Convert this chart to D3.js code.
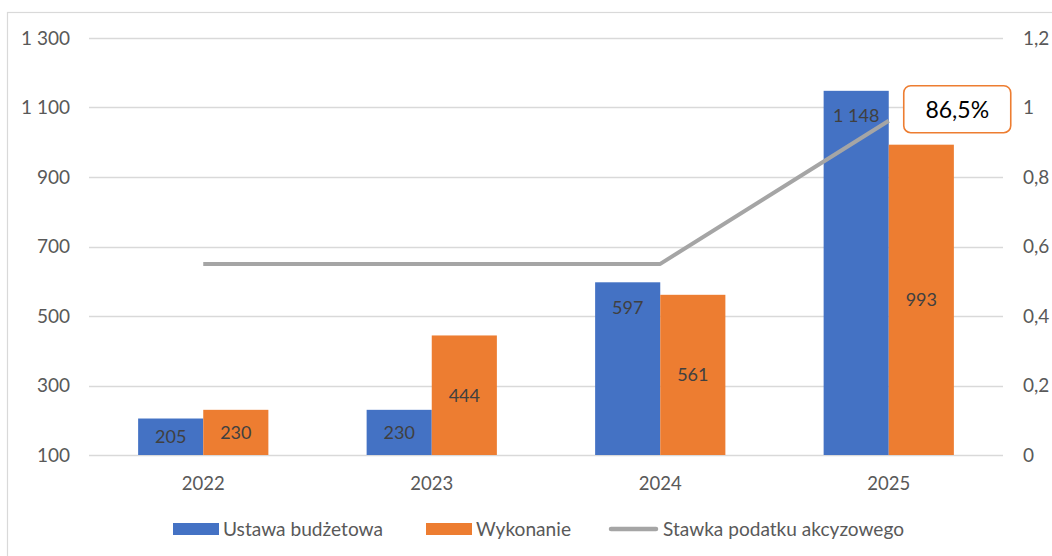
<!DOCTYPE html>
<html><head><meta charset="utf-8">
<script src="https://cdn.jsdelivr.net/npm/d3@7"></script>
<style>body{margin:0;background:#fff}svg{display:block}text{font-family:Lato,"Open Sans",sans-serif}</style>
</head><body><svg id="c" width="1052" height="556"></svg>
<script>
const categories = ["2022","2023","2024","2025"];
const ustawa = [205, 230, 597, 1148];
const wykonanie = [230, 444, 561, 993];
const stawka = [0.55, 0.55, 0.55, 0.962];
const leftTicks = [100, 300, 500, 700, 900, 1100, 1300];
const rightTicks = [0, 0.2, 0.4, 0.6, 0.8, 1, 1.2];
const seriesNames = ["Ustawa budżetowa", "Wykonanie", "Stawka podatku akcyzowego"];
const annotation = "86,5%";

const colors = {blue:"#4472C4", orange:"#ED7D31", gray:"#A5A5A5", grid:"#D9D9D9", axis:"#595959", label:"#404040"};
const svg = d3.select("#c");
const L = 89, R = 1003, T = 38, B = 455;

svg.append("rect").attr("x",7.5).attr("y",12.5).attr("width",1060).attr("height",560)
  .attr("fill","none").attr("stroke","#D9D9D9").attr("stroke-width",1.2);

const x = d3.scaleBand().domain(categories).range([L,R]).padding(0);
const y = d3.scaleLinear().domain([100,1300]).range([B,T]);
const y2 = d3.scaleLinear().domain([0,1.2]).range([B,T]);
const fmt = v => d3.format(",")(v).replace(/,/g," ");
const fmt2 = v => String(v).replace(".",",");

// grid
svg.append("g").selectAll("line").data(leftTicks).join("line")
  .attr("x1",L).attr("x2",R).attr("y1",d=>Math.round(y(d))+0.5).attr("y2",d=>Math.round(y(d))+0.5)
  .attr("stroke",colors.grid).attr("stroke-width",1.3);

// left axis
const ax = svg.append("g").attr("transform",`translate(${L},0)`)
  .call(d3.axisLeft(y).tickValues(leftTicks).tickFormat(fmt).tickSize(0).tickPadding(19));
ax.select(".domain").remove();
ax.selectAll("text").attr("fill",colors.axis).style("font-size","19px");

// right axis
const ar = svg.append("g").attr("transform",`translate(${R},0)`)
  .call(d3.axisRight(y2).tickValues(rightTicks).tickFormat(fmt2).tickSize(0).tickPadding(20));
ar.select(".domain").remove();
ar.selectAll("text").attr("fill",colors.axis).style("font-size","19px");

// bottom axis
const ab = svg.append("g").attr("transform",`translate(0,${B})`)
  .call(d3.axisBottom(x).tickSize(0).tickPadding(22));
ab.select(".domain").remove();
ab.selectAll("text").attr("fill",colors.axis).style("font-size","18.5px");

const bw = x.bandwidth()*0.285;
const groups = [
  {vals: ustawa, color: colors.blue, off: -bw, end:true},
  {vals: wykonanie, color: colors.orange, off: 0, end:false}
];
groups.forEach(g=>{
  const data = categories.map((c,i)=>({c, v:g.vals[i]}));
  svg.append("g").selectAll("rect").data(data).join("rect")
    .attr("x",d=>x(d.c)+x.bandwidth()/2+g.off).attr("width",bw)
    .attr("y",d=>y(d.v)).attr("height",d=>y(100)-y(d.v)).attr("fill",g.color);
  svg.append("g").selectAll("text").data(data).join("text")
    .attr("x",d=>x(d.c)+x.bandwidth()/2+g.off+bw/2)
    .attr("y",d=>{const c=(y(d.v)+y(100))/2; return g.end? Math.min(y(d.v)+25,c): c;})
    .attr("dy","0.35em").attr("text-anchor","middle").attr("fill",colors.label)
    .style("font-size","18px").text(d=>fmt(d.v));
});

// line
const line = d3.line().x((d,i)=>x(categories[i])+x.bandwidth()/2).y(d=>y2(d));
svg.append("path").datum(stawka).attr("d",line).attr("fill","none")
  .attr("stroke",colors.gray).attr("stroke-width",4).attr("stroke-linejoin","round");

// annotation
const lastX = x(categories[3])+x.bandwidth()/2, lastY = y2(stawka[3]);
svg.append("rect").attr("x",lastX+15).attr("y",lastY-35).attr("width",107).attr("height",47)
  .attr("rx",7).attr("fill","#fff").attr("stroke",colors.orange).attr("stroke-width",1.6);
svg.append("text").attr("x",lastX+15+53.5).attr("y",lastY-11).attr("dy","0.35em")
  .attr("text-anchor","middle").attr("fill","#000").style("font-size","23px").text(annotation);

// legend
const lg = svg.append("g");
const items = [
  {x:173, name:seriesNames[0], type:"rect", color:colors.blue, w:160, tx:50},
  {x:426, name:seriesNames[1], type:"rect", color:colors.orange, w:95, tx:50},
  {x:609, name:seriesNames[2], type:"line", color:colors.gray, w:241, tx:54}
];
items.forEach(it=>{
  if(it.type==="rect") lg.append("rect").attr("x",it.x).attr("y",523).attr("width",46).attr("height",12).attr("fill",it.color);
  else lg.append("line").attr("x1",it.x+2).attr("x2",it.x+47).attr("y1",529).attr("y2",529).attr("stroke",it.color).attr("stroke-width",4.5).attr("stroke-linecap","round");
  lg.append("text").attr("x",it.x+it.tx).attr("y",529).attr("dy","0.35em").attr("fill",colors.axis)
    .attr("textLength",it.w).attr("lengthAdjust","spacingAndGlyphs")
    .style("font-size","19px").text(it.name);
});
</script></body></html>
